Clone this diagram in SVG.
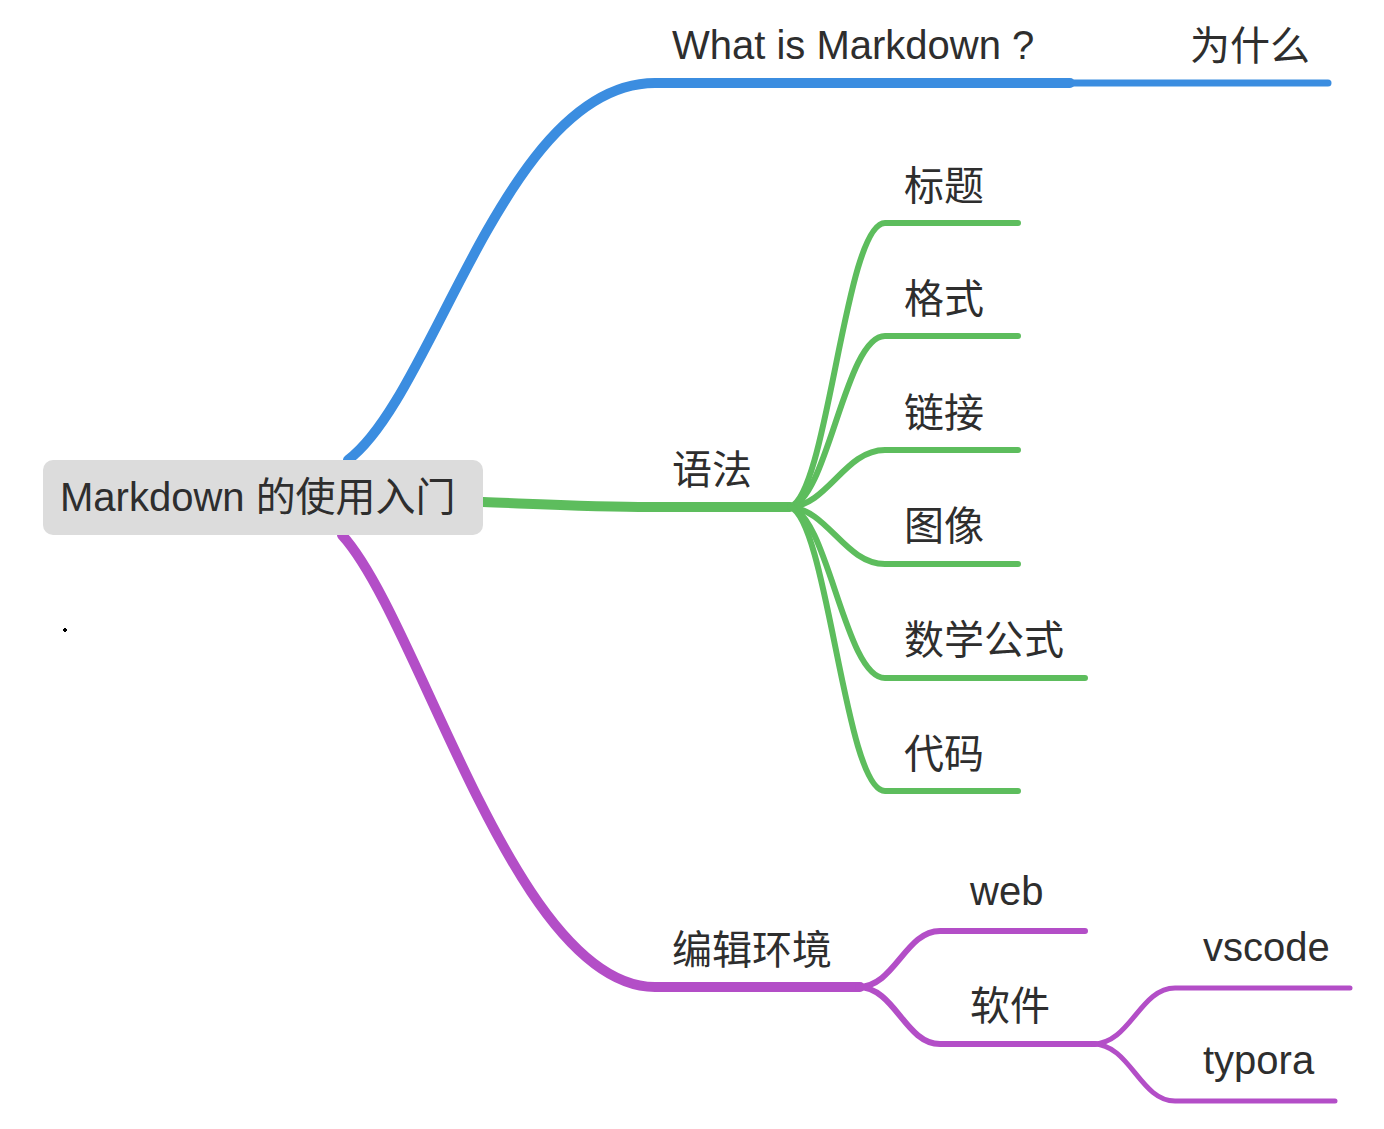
<svg xmlns="http://www.w3.org/2000/svg" width="1384" height="1129" viewBox="0 0 1384 1129">
<style>
text{font-family:"Liberation Sans","Noto Sans CJK SC",sans-serif;font-size:40px;fill:#2e2e2e}
.c{fill:none;stroke-linecap:round}
.blue{stroke:#3b8de0}
.green{stroke:#5dbd5d}
.purple{stroke:#b34ec7}
.w1{stroke-width:10}
.w2{stroke-width:7}
.w3{stroke-width:6}
.w4{stroke-width:5}
</style>
<rect width="1384" height="1129" fill="#ffffff"/>
<g id="connectors">
<path class="c blue w1" d="M348,460 C435,395 505,83 655,83 L1070,83"/>
<path class="c blue w2" d="M1070,83 L1328,83"/>
<path class="c green w1" d="M483,502 C560,505 600,507 650,507 L790,507"/>
<path class="c green w3" d="M790,507 C828,495 845,223 885,223 L1018,223"/>
<path class="c green w3" d="M790,507 C828,500 845,336 885,336 L1018,336"/>
<path class="c green w3" d="M790,507 C828,505 845,450 885,450 L1018,450"/>
<path class="c green w3" d="M790,507 C828,510 845,564 885,564 L1018,564"/>
<path class="c green w3" d="M790,507 C828,515 845,678 885,678 L1085,678"/>
<path class="c green w3" d="M790,507 C828,520 845,791 885,791 L1018,791"/>
<path class="c purple w1" d="M342,535 C420,620 515,987 655,987 L860,987"/>
<path class="c purple w3" d="M858,987 C895,987 905,931 940,931 L1085,931"/>
<path class="c purple w3" d="M858,987 C895,987 905,1044 940,1044 L1095,1044"/>
<path class="c purple w4" d="M1093,1044 C1130,1044 1140,988 1175,988 L1350,988"/>
<path class="c purple w4" d="M1093,1044 C1130,1044 1140,1101 1175,1101 L1335,1101"/>
</g>
<g id="root">
<rect x="43" y="460" width="440" height="75" rx="10" fill="#dcdcdc"/>
<text x="60" y="511" font-size="41">Markdown 的使用入门</text>
</g>
<g id="n-what"><text x="672" y="59" font-size="41">What is Markdown ?</text></g>
<g id="n-why"><text x="1190" y="60">为什么</text></g>
<g id="n-syntax"><text x="672" y="484">语法</text></g>
<g id="n-title"><text x="904" y="200">标题</text></g>
<g id="n-format"><text x="904" y="313">格式</text></g>
<g id="n-link"><text x="904" y="427">链接</text></g>
<g id="n-image"><text x="904" y="540">图像</text></g>
<g id="n-math"><text x="904" y="654">数学公式</text></g>
<g id="n-code"><text x="904" y="768">代码</text></g>
<g id="n-env"><text x="672" y="964">编辑环境</text></g>
<g id="n-web"><text x="970" y="905">web</text></g>
<g id="n-soft"><text x="970" y="1020">软件</text></g>
<g id="n-vscode"><text x="1203" y="961">vscode</text></g>
<g id="n-typora"><text x="1203" y="1074">typora</text></g>
<rect x="63" y="629" width="4" height="2" fill="#000"/>
<rect x="64" y="628" width="2" height="4" fill="#000"/>
</svg>
